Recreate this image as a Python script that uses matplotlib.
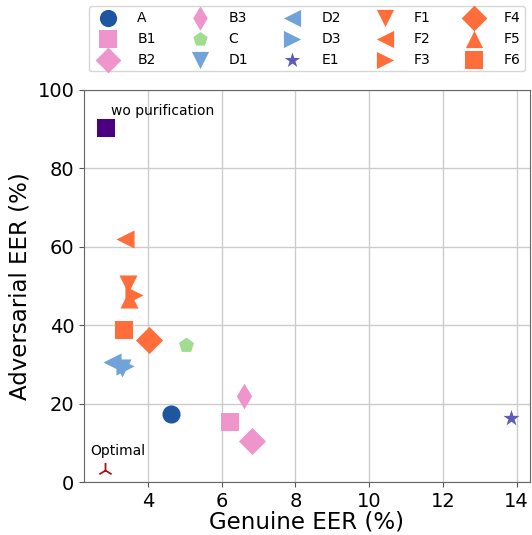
import numpy as np
import matplotlib
matplotlib.use('Agg')
import matplotlib.pyplot as plt

# method names, genuine EER (%) and adversarial EER (%)
names = ['A', 'B1', 'B2', 'B3', 'C', 'D1', 'D2', 'D3', 'E1',
         'F1', 'F2', 'F3', 'F4', 'F5', 'F6']
genuine = [4.63, 6.23, 6.83, 6.61, 5.03, 3.30, 3.02, 3.37, 13.86,
           3.46, 3.38, 3.62, 4.03, 3.48, 3.35]
adversarial = [17.3, 15.3, 10.4, 21.9, 34.9, 29.0, 30.5, 29.5, 16.3,
               50.4, 62.1, 47.6, 36.1, 46.8, 38.7]
markers = ['o', 's', 'D', 'd', 'p', 'v', '<', '>', '*',
           'v', '<', '>', 'D', '^', 's']
colors = ['#1f56a0', '#ee95cc', '#ee95cc', '#ee95cc', '#a0dd90',
          '#6fa3d9', '#6fa3d9', '#6fa3d9', '#5b5bb8',
          '#ff6d3b', '#ff6d3b', '#ff6d3b', '#ff6d3b', '#ff6d3b', '#ff6d3b']
sizes = [170, 170, 190, 170, 130, 170, 170, 170, 150,
         170, 170, 170, 190, 170, 170]

# reference points
wo_x, wo_y = 2.86, 90.3
opt_x, opt_y = 2.83, 3.0

fig = plt.figure(figsize=(5.32, 5.35), dpi=100)
ax = fig.add_axes([0.158, 0.099, 0.838, 0.733])

for n, gx, ay, m, c, s in zip(names, genuine, adversarial, markers, colors, sizes):
    ax.scatter(gx, ay, marker=m, color=c, s=s, label=n, zorder=3, linewidths=0)

ax.scatter(wo_x, wo_y, marker='s', color='#4b0082', s=150, zorder=3, linewidths=0)
ax.scatter(opt_x, opt_y, marker='2', color='#a01818', s=120, zorder=3, linewidths=1.3)
ax.text(3.0, 93.5, 'wo purification', fontsize=10)
ax.text(2.45, 7.0, 'Optimal', fontsize=10)

ax.set_xlim(2.27, 14.36)
ax.set_ylim(0, 100)
ax.set_xticks([4, 6, 8, 10, 12, 14])
ax.set_yticks([0, 20, 40, 60, 80, 100])
ax.tick_params(labelsize=14, color='#555555')
ax.grid(True, color='#cccccc', linewidth=1)
ax.set_axisbelow(True)
for sp in ax.spines.values():
    sp.set_color('#666666')
ax.set_xlabel('Genuine EER (%)', fontsize=16.5, labelpad=0)
ax.set_ylabel('Adversarial EER (%)', fontsize=16.5, labelpad=4)

fig.legend(loc='upper left', bbox_to_anchor=(0.155, 1.002), ncol=5, fontsize=10,
           handletextpad=1.1, columnspacing=2.15, labelspacing=0.5,
           borderpad=0.35, scatterpoints=1, markerscale=0.95, frameon=True)

fig.savefig('out.png', dpi=100)
